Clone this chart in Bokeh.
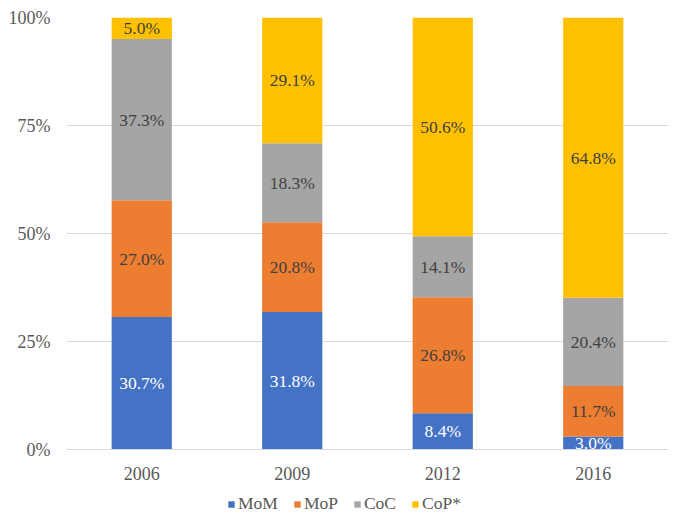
from bokeh.plotting import figure
from bokeh.models import (ColumnDataSource, FactorRange, Range1d, NumeralTickFormatter,
                          Legend, LegendItem, FixedTicker)
from bokeh.core.properties import value
from bokeh.embed import file_html
from bokeh.resources import INLINE

years = ["2006", "2009", "2012", "2016"]
series = ["MoM", "MoP", "CoC", "CoP*"]
mom = [30.7, 31.8, 8.4, 3.0]
mop = [27.0, 20.8, 26.8, 11.7]
coc = [37.3, 18.3, 14.1, 20.4]
cop = [5.0, 29.1, 50.6, 64.8]
colors = ["#4472C4", "#ED7D31", "#A5A5A5", "#FFC000"]
label_colors = ["#FFFFFF", "#404040", "#404040", "#404040"]
y_ticks = [0, 0.25, 0.5, 0.75, 1.0]

FONT = "Liberation Serif"

# frame covers the plot area plus the strip below it (axis labels + legend)
FRAME_H = 509
PLOT_H = 432
p = figure(x_range=FactorRange(*years), y_range=Range1d(-(FRAME_H - PLOT_H) / PLOT_H, 1),
           frame_width=602, frame_height=FRAME_H, output_backend="svg", toolbar_location=None,
           min_border_left=66, min_border_right=16, min_border_top=17, min_border_bottom=0)
p.outline_line_color = None
p.background_fill_color = "white"
p.border_fill_color = "white"

all_vals = [mom, mop, coc, cop]
totals = [sum(v[i] for v in all_vals) for i in range(len(years))]
bottoms = [0.0] * len(years)
items = []
for name, vals, col, lcol in zip(series, all_vals, colors, label_colors):
    frac = [v / t for v, t in zip(vals, totals)]
    tops = [b + f for b, f in zip(bottoms, frac)]
    mids = [(b + t) / 2 for b, t in zip(bottoms, tops)]
    src = ColumnDataSource(dict(x=years, bottom=bottoms, top=tops, mid=mids,
                                label=["%.1f%%" % v for v in vals]))
    r = p.vbar(x="x", bottom="bottom", top="top", width=0.4, source=src,
               fill_color=col, line_color=None)
    p.text(x="x", y="mid", text="label", source=src, text_align="center",
           text_baseline="middle", text_color=lcol, text_font=value(FONT),
           text_font_size="17.5px")
    items.append(LegendItem(label=name, renderers=[r]))
    bottoms = tops

p.yaxis.ticker = FixedTicker(ticks=y_ticks)
p.yaxis.formatter = NumeralTickFormatter(format="0%")
p.yaxis.axis_line_color = None
p.yaxis.major_tick_line_color = None
p.yaxis.minor_tick_line_color = None
p.yaxis.major_label_text_font = FONT
p.yaxis.major_label_text_font_size = "18px"
p.yaxis.major_label_text_color = "#595959"
p.yaxis.major_label_standoff = 10

p.xaxis.fixed_location = 0
p.xaxis.axis_line_color = "#D9D9D9"
p.xaxis.major_tick_line_color = None
p.xaxis.minor_tick_line_color = None
p.xaxis.major_label_text_font = FONT
p.xaxis.major_label_text_font_size = "18px"
p.xaxis.major_label_text_color = "#595959"
p.xaxis.major_label_standoff = 11

p.xgrid.grid_line_color = None
p.ygrid.grid_line_color = "#D9D9D9"

legend = Legend(items=items, orientation="horizontal", location=(161, 12),
                label_text_font=FONT, label_text_font_size="17.5px",
                label_text_color="#595959", glyph_width=8, glyph_height=8,
                spacing=15, label_standoff=3, border_line_color=None,
                background_fill_alpha=0, padding=2, margin=0, label_height=18)
p.add_layout(legend, "center")

open("out.html", "w").write(file_html(p, INLINE))
